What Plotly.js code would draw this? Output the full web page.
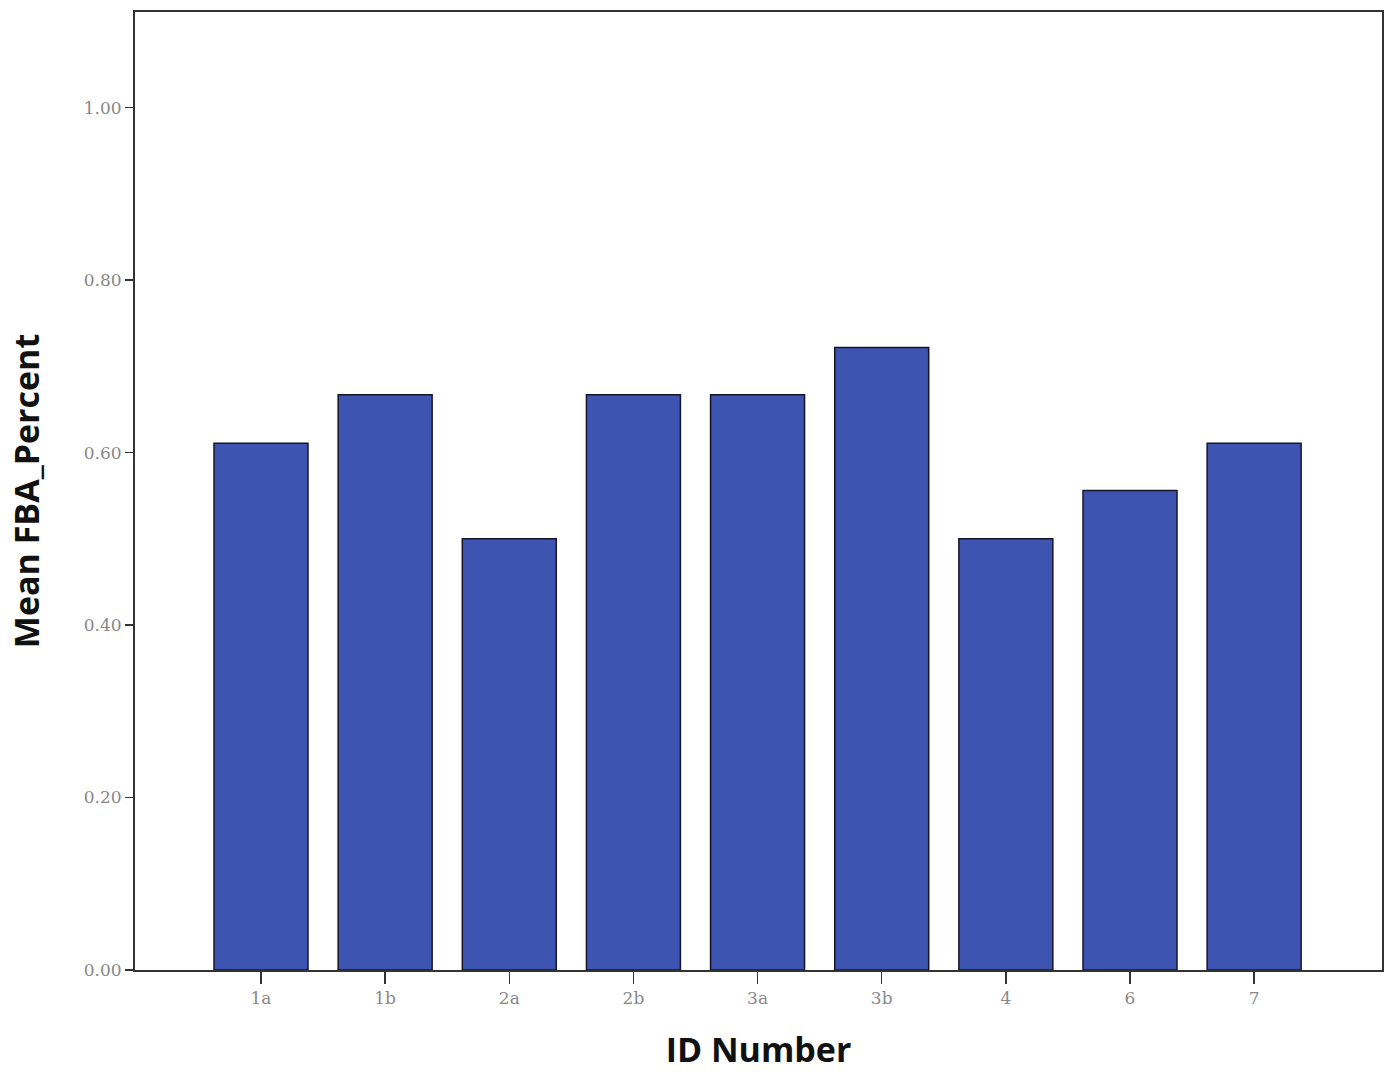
<!DOCTYPE html>
<html>
<head>
<meta charset="utf-8">
<script src="https://cdn.plot.ly/plotly-3.0.1.min.js"></script>
<style>html,body{margin:0;padding:0;background:#fff;}#chart{width:1385px;height:1072px;}</style>
</head>
<body>
<div id="chart"></div>
<script>
const categories = ["1a", "1b", "2a", "2b", "3a", "3b", "4", "6", "7"];
const meanFBA = [0.611, 0.667, 0.5, 0.667, 0.667, 0.722, 0.5, 0.556, 0.611];
const yTickVals = [0, 0.2, 0.4, 0.6, 0.8, 1.0];
const yTickText = ["0.00", "0.20", "0.40", "0.60", "0.80", "1.00"];

const trace = {
  type: "bar",
  x: categories,
  y: meanFBA,
  width: 0.757,
  marker: {color: "#3d55b1", line: {color: "#15152a", width: 1.5}},
  hoverinfo: "x+y"
};

const layout = {
  width: 1385, height: 1072,
  margin: {l: 135, r: 3, t: 12, b: 102},
  paper_bgcolor: "#ffffff", plot_bgcolor: "#ffffff",
  showlegend: false,
  xaxis: {
    type: "category",
    range: [-1.015, 9.03],
    showgrid: false, zeroline: false,
    showline: true, linecolor: "#333333", linewidth: 2, mirror: true,
    ticks: "outside", ticklen: 12, tickwidth: 1.5, tickcolor: "#333333",
    tickfont: {family: "DejaVu Serif, serif", size: 17, color: "#888888"},
    title: {text: "ID Number", font: {family: "Open Sans, sans-serif", size: 34, color: "#111111", weight: "bold"}, standoff: 32}
  },
  yaxis: {
    range: [0, 1.111],
    tickvals: yTickVals, ticktext: yTickText,
    showgrid: false, zeroline: false,
    showline: true, linecolor: "#333333", linewidth: 2, mirror: true,
    ticks: "outside", ticklen: 8, tickwidth: 1.5, tickcolor: "#333333",
    tickfont: {family: "DejaVu Serif, serif", size: 17, color: "#888888"},
    title: {text: "Mean FBA_Percent", font: {family: "Open Sans, sans-serif", size: 34, color: "#111111", weight: "bold"}, standoff: 34}
  }
};

Plotly.newPlot("chart", [trace], layout, {displayModeBar: false, staticPlot: true});
</script>
</body>
</html>
